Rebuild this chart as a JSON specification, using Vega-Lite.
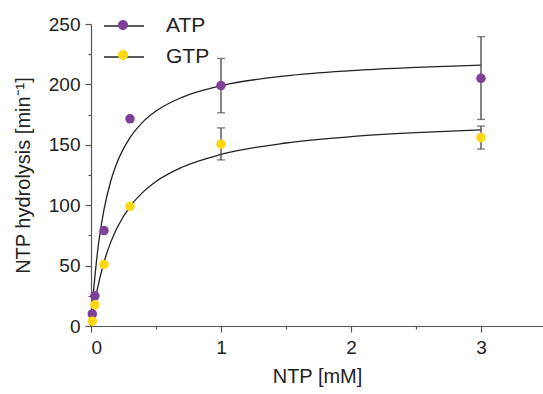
{
  "$schema": "https://vega.github.io/schema/vega-lite/v6.json",
  "width": 452,
  "height": 302,
  "autosize": {"type": "none"},
  "padding": {"left": 91, "top": 24, "right": 0, "bottom": 68},
  "background": "white",
  "config": {
    "view": {"stroke": null},
    "font": "Liberation Sans",
    "axis": {
      "grid": false,
      "domainColor": "#555555",
      "domainWidth": 1.2,
      "tickColor": "#555555",
      "tickWidth": 1.2,
      "labelColor": "#222222",
      "titleColor": "#222222",
      "labelFont": "Liberation Sans",
      "titleFont": "Liberation Sans",
      "labelFontSize": 19,
      "titleFontSize": 20,
      "titleFontWeight": "normal"
    },
    "legend": {
      "labelFont": "Liberation Sans",
      "labelFontSize": 21,
      "labelColor": "#222222"
    }
  },
  "datasets": {
    "measured": [
      {"ntp": 0.01, "rate": 10, "series": "ATP"},
      {"ntp": 0.03, "rate": 25, "series": "ATP"},
      {"ntp": 0.1, "rate": 79, "series": "ATP"},
      {"ntp": 0.3, "rate": 171.5, "series": "ATP"},
      {"ntp": 1, "rate": 199, "series": "ATP"},
      {"ntp": 3, "rate": 205, "series": "ATP"},
      {"ntp": 0.01, "rate": 4, "series": "GTP"},
      {"ntp": 0.03, "rate": 17.5, "series": "GTP"},
      {"ntp": 0.1, "rate": 51, "series": "GTP"},
      {"ntp": 0.3, "rate": 99, "series": "GTP"},
      {"ntp": 1, "rate": 150.5, "series": "GTP"},
      {"ntp": 3, "rate": 156, "series": "GTP"}
    ],
    "errors": [
      {"ntp": 1, "lo": 176.5, "hi": 221.5, "series": "ATP"},
      {"ntp": 3, "lo": 171, "hi": 239.5, "series": "ATP"},
      {"ntp": 1, "lo": 137.5, "hi": 164, "series": "GTP"},
      {"ntp": 3, "lo": 146.5, "hi": 165.5, "series": "GTP"}
    ],
    "fit": [
      {"ntp": 0, "rate": 0, "curve": "ATP"},
      {"ntp": 0.01, "rate": 15.7, "curve": "ATP"},
      {"ntp": 0.02, "rate": 29.3, "curve": "ATP"},
      {"ntp": 0.05, "rate": 61.3, "curve": "ATP"},
      {"ntp": 0.1, "rate": 96.4, "curve": "ATP"},
      {"ntp": 0.15, "rate": 119.2, "curve": "ATP"},
      {"ntp": 0.2, "rate": 135.1, "curve": "ATP"},
      {"ntp": 0.3, "rate": 155.9, "curve": "ATP"},
      {"ntp": 0.4, "rate": 169.0, "curve": "ATP"},
      {"ntp": 0.5, "rate": 177.9, "curve": "ATP"},
      {"ntp": 0.7, "rate": 189.3, "curve": "ATP"},
      {"ntp": 1, "rate": 198.9, "curve": "ATP"},
      {"ntp": 1.5, "rate": 207.1, "curve": "ATP"},
      {"ntp": 2, "rate": 211.4, "curve": "ATP"},
      {"ntp": 2.5, "rate": 214.1, "curve": "ATP"},
      {"ntp": 3, "rate": 216.0, "curve": "ATP"},
      {"ntp": 0, "rate": 0, "curve": "GTP"},
      {"ntp": 0.01, "rate": 7.3, "curve": "GTP"},
      {"ntp": 0.02, "rate": 13.9, "curve": "GTP"},
      {"ntp": 0.05, "rate": 31.1, "curve": "GTP"},
      {"ntp": 0.1, "rate": 52.8, "curve": "GTP"},
      {"ntp": 0.15, "rate": 68.8, "curve": "GTP"},
      {"ntp": 0.2, "rate": 81.1, "curve": "GTP"},
      {"ntp": 0.3, "rate": 98.8, "curve": "GTP"},
      {"ntp": 0.4, "rate": 110.8, "curve": "GTP"},
      {"ntp": 0.5, "rate": 119.6, "curve": "GTP"},
      {"ntp": 0.7, "rate": 131.4, "curve": "GTP"},
      {"ntp": 1, "rate": 142.0, "curve": "GTP"},
      {"ntp": 1.5, "rate": 151.5, "curve": "GTP"},
      {"ntp": 2, "rate": 156.7, "curve": "GTP"},
      {"ntp": 2.5, "rate": 160.0, "curve": "GTP"},
      {"ntp": 3, "rate": 162.3, "curve": "GTP"}
    ]
  },
  "resolve": {"axis": {"x": "independent", "y": "independent"}},
  "layer": [
    {
      "data": {"name": "fit"},
      "mark": {"type": "line", "interpolate": "monotone", "strokeWidth": 1.3},
      "encoding": {
        "x": {"field": "ntp", "type": "quantitative", "scale": {"domain": [0, 3.477], "nice": false}, "axis": null},
        "y": {"field": "rate", "type": "quantitative", "scale": {"domain": [0, 250], "nice": false}, "axis": null},
        "stroke": {
          "field": "curve", "type": "nominal",
          "scale": {"range": ["#222222", "#222222"]},
          "legend": {
            "orient": "none", "legendX": 12, "legendY": -19, "title": null, "padding": 0,
            "symbolType": "M-1,0H1", "symbolSize": 1600, "symbolStrokeWidth": 1.3,
            "labelOffset": 21, "rowPadding": 0
          }
        }
      }
    },
    {
      "data": {"name": "errors"},
      "mark": {"type": "rule", "color": "#444444", "strokeWidth": 1.3},
      "encoding": {
        "x": {"field": "ntp", "type": "quantitative",
          "axis": {"orient": "bottom", "values": [0.5, 1.5, 2.5], "labels": false, "domain": false, "tickSize": 3, "title": null}},
        "y": {"field": "lo", "type": "quantitative",
          "axis": {"orient": "left", "values": [25, 75, 125, 175, 225], "labels": false, "domain": false, "tickSize": 3, "title": null}},
        "y2": {"field": "hi"}
      }
    },
    {
      "data": {"name": "errors"},
      "mark": {"type": "tick", "orient": "horizontal", "color": "#444444", "size": 8, "thickness": 1.3},
      "encoding": {
        "x": {"field": "ntp", "type": "quantitative", "axis": null},
        "y": {"field": "lo", "type": "quantitative", "axis": null}
      }
    },
    {
      "data": {"name": "errors"},
      "mark": {"type": "tick", "orient": "horizontal", "color": "#444444", "size": 8, "thickness": 1.3},
      "encoding": {
        "x": {"field": "ntp", "type": "quantitative", "axis": null},
        "y": {"field": "hi", "type": "quantitative", "axis": null}
      }
    },
    {
      "data": {"name": "measured"},
      "mark": {"type": "circle", "size": 90, "opacity": 1},
      "encoding": {
        "x": {"field": "ntp", "type": "quantitative",
          "axis": {"orient": "bottom", "values": [0, 1, 2, 3], "tickSize": 6, "labelPadding": 6, "title": "NTP [mM]", "titlePadding": 9}},
        "y": {"field": "rate", "type": "quantitative",
          "axis": {"orient": "left", "values": [0, 50, 100, 150, 200, 250], "tickSize": 6, "labelPadding": 5, "title": "NTP hydrolysis [min⁻¹]", "titlePadding": 15}},
        "fill": {
          "field": "series", "type": "nominal",
          "scale": {"range": ["#7d3f98", "#fdd712"]},
          "legend": {
            "orient": "none", "legendX": 12, "legendY": -19, "title": null, "padding": 0,
            "symbolType": "M-0.25,0A0.25,0.25,0,1,1,0.25,0A0.25,0.25,0,1,1,-0.25,0Z",
            "symbolSize": 1600, "symbolStrokeWidth": 0, "symbolOpacity": 1,
            "labelOffset": 21, "rowPadding": 0, "labelExpr": "' '"
          }
        }
      }
    }
  ]
}
